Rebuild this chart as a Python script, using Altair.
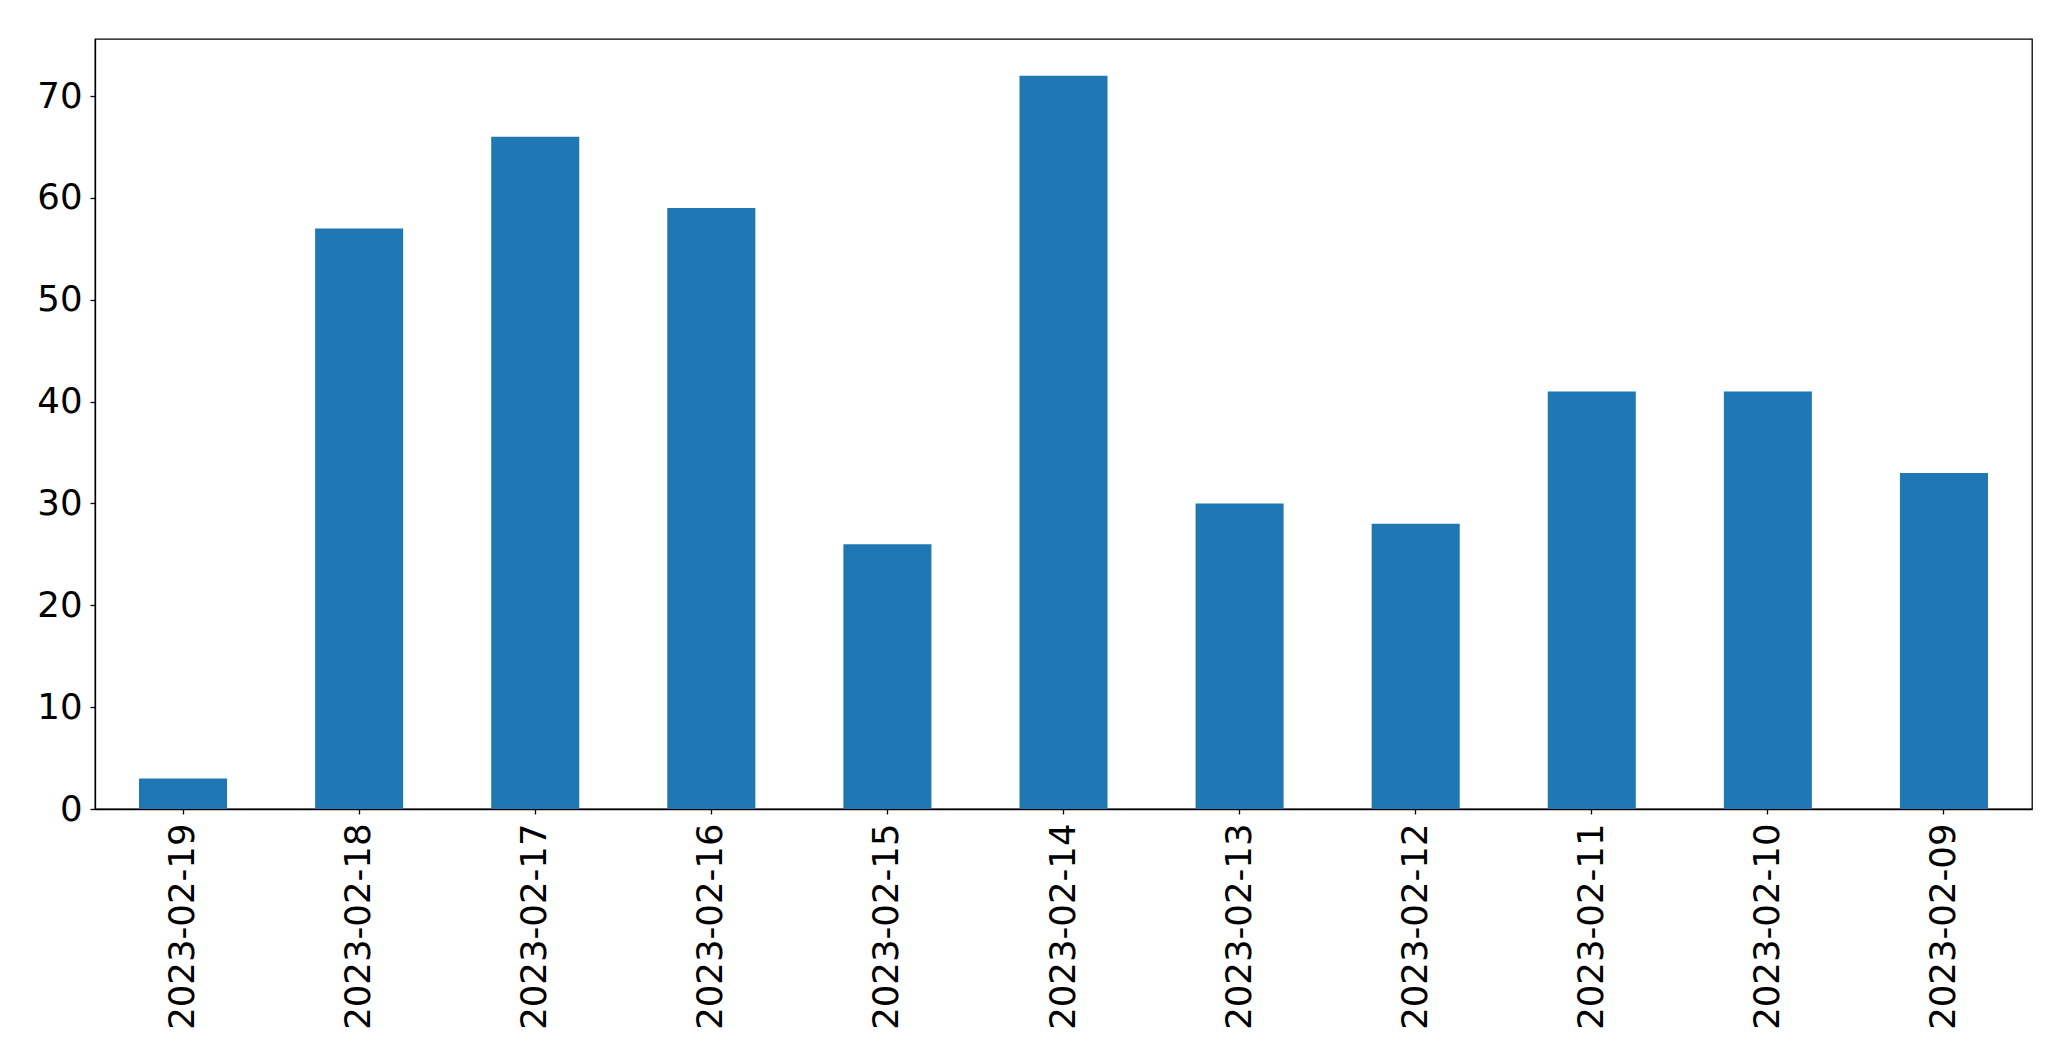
import altair as alt
import pandas as pd

dates = ["2023-02-19", "2023-02-18", "2023-02-17", "2023-02-16", "2023-02-15",
         "2023-02-14", "2023-02-13", "2023-02-12", "2023-02-11", "2023-02-10", "2023-02-09"]
counts = [3, 57, 66, 59, 26, 72, 30, 28, 41, 41, 33]

df = pd.DataFrame({"date": dates, "count": counts})

chart = alt.Chart(df).mark_bar(color="#1f77b4").encode(
    x=alt.X("date:N", sort=dates, title=None,
            scale=alt.Scale(paddingInner=0.5, paddingOuter=0.25),
            axis=alt.Axis(labelAngle=-90, labelFontSize=35.5, labelFont="DejaVu Sans",
                          labelColor="black", tickColor="black", tickSize=5, tickWidth=1.3,
                          labelPadding=9, labelLimit=0, domainColor="black", domainWidth=1.3,
                          grid=False)),
    y=alt.Y("count:Q", title=None,
            scale=alt.Scale(domain=[0, 75.6], nice=False, zero=True),
            axis=alt.Axis(values=[0, 10, 20, 30, 40, 50, 60, 70], labelFontSize=35.5,
                          labelFont="DejaVu Sans", labelColor="black", tickColor="black",
                          tickSize=5, tickWidth=1.3, labelPadding=8, domainColor="black",
                          domainWidth=1.3, grid=False)),
).properties(
    width=1937, height=770,
    autosize=alt.AutoSizeParams(type="none"),
    padding={"left": 87, "top": 31, "right": 20, "bottom": 230},
).configure_view(stroke="black", strokeWidth=1.3)

chart.save("out.html", embed_options={"renderer": "svg", "actions": False})
